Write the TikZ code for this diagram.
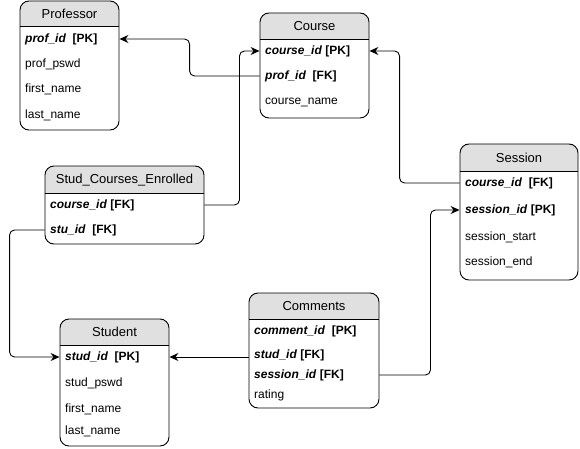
\documentclass[tikz,border=0pt]{standalone}
\usepackage{fontspec}
\setmainfont{Liberation Sans}
\usetikzlibrary{arrows.meta}

\definecolor{hdrgray}{RGB}{224,224,224}

\tikzset{
  tbl/.style={draw, line width=0.9pt, rounded corners=9pt, inner sep=0pt},
  hdr/.style={fill=hdrgray, rounded corners=9pt},
  title/.style={inner sep=0pt, font=\fontsize{13}{15}\selectfont},
  row/.style={anchor=west, inner sep=0pt, font=\fontsize{12}{14}\selectfont},
  fk/.style={draw, line width=0.9pt, rounded corners=5pt, -{Stealth[length=9pt,width=8pt,inset=3pt]}}
}
\newcommand{\fld}[1]{\textbf{\textit{#1}}}

\begin{document}
\begin{tikzpicture}[x=1pt,y=1pt,yscale=-1,xscale=1]
\useasboundingbox (0,0) rectangle (580,449);

% Shape: Professor
\begin{scope}
\clip (20,1) rectangle (119,26);
\fill[hdr] (20,1) rectangle (119,130);
\end{scope}
\node[tbl, minimum width=99, minimum height=129] (prof) at (69.5,65.5) {};
\draw[line width=0.9pt] (20,26) -- (119,26);
% Text Node
\node[title] (prof-title) at (69.5,14) {Professor};
\node[row] (prof-id) at (25,39) {\fld{prof\_id}\ \ \textbf{[PK]}};
\node[row] (prof-pswd) at (25,64) {prof\_pswd};
\node[row] (prof-first) at (25,89) {first\_name};
\node[row] (prof-last) at (25,115) {last\_name};

% Shape: Course
\begin{scope}
\clip (260,13) rectangle (369,39);
\fill[hdr] (260,13) rectangle (369,118);
\end{scope}
\node[tbl, minimum width=109, minimum height=105] (course) at (314.5,65.5) {};
\draw[line width=0.9pt] (260,39) -- (369,39);
% Text Node
\node[title] (course-title) at (314.5,26) {Course};
\node[row] (course-id) at (265,51) {\fld{course\_id} \textbf{[PK]}};
\node[row] (course-profid) at (265,76) {\fld{prof\_id}\ \ \textbf{[FK]}};
\node[row] (course-name) at (265,102) {course\_name};

% Shape: Stud_Courses_Enrolled
\begin{scope}
\clip (45,166) rectangle (204,193);
\fill[hdr] (45,166) rectangle (204,244);
\end{scope}
\node[tbl, minimum width=159, minimum height=78] (enrolled) at (124.5,205) {};
\draw[line width=0.9pt] (45,193) -- (204,193);
% Text Node
\node[title] (enrolled-title) at (124.5,180) {Stud\_Courses\_Enrolled};
\node[row] (enrolled-course) at (50,205) {\fld{course\_id} \textbf{[FK]}};
\node[row] (enrolled-stu) at (50,230) {\fld{stu\_id}\ \ \textbf{[FK]}};

% Shape: Session
\begin{scope}
\clip (460,144) rectangle (578,171);
\fill[hdr] (460,144) rectangle (578,280);
\end{scope}
\node[tbl, minimum width=118, minimum height=136] (session) at (519,212) {};
\draw[line width=0.9pt] (460,171) -- (578,171);
% Text Node
\node[title] (session-title) at (519,157.5) {Session};
\node[row] (session-course) at (465,183) {\fld{course\_id}\ \ \textbf{[FK]}};
\node[row] (session-id) at (465,210) {\fld{session\_id} \textbf{[PK]}};
\node[row] (session-start) at (465,237) {session\_start};
\node[row] (session-end) at (465,262) {session\_end};

% Shape: Student
\begin{scope}
\clip (60,319) rectangle (169,345);
\fill[hdr] (60,319) rectangle (169,446);
\end{scope}
\node[tbl, minimum width=109, minimum height=127] (student) at (114.5,382.5) {};
\draw[line width=0.9pt] (60,345) -- (169,345);
% Text Node
\node[title] (student-title) at (114.5,332) {Student};
\node[row] (student-id) at (65,357) {\fld{stud\_id}\ \ \textbf{[PK]}};
\node[row] (student-pswd) at (65,383) {stud\_pswd};
\node[row] (student-first) at (65,409) {first\_name};
\node[row] (student-last) at (65,431) {last\_name};

% Shape: Comments
\begin{scope}
\clip (249,293) rectangle (379,319);
\fill[hdr] (249,293) rectangle (379,408);
\end{scope}
\node[tbl, minimum width=130, minimum height=115] (comments) at (314,350.5) {};
\draw[line width=0.9pt] (249,319) -- (379,319);
% Text Node
\node[title] (comments-title) at (314,306) {Comments};
\node[row] (comments-id) at (254,331) {\fld{comment\_id}\ \ \textbf{[PK]}};
\node[row] (comments-stud) at (254,355) {\fld{stud\_id} \textbf{[FK]}};
\node[row] (comments-session) at (254,375) {\fld{session\_id} \textbf{[FK]}};
\node[row] (comments-rating) at (254,395) {rating};

% Connection
\draw[fk] (course.west |- course-profid) -- ++(-70,0) |- (prof.east |- prof-id);
% Connection
\draw[fk] (enrolled.east |- enrolled-course) -- ++(35,0) |- (course.west |- course-id);
% Connection
\draw[fk] (session.west |- session-course) -- ++(-60,0) |- (course.east |- course-id);
% Connection
\draw[fk] (enrolled.west |- enrolled-stu) -- ++(-35,0) |- (student.west |- student-id);
% Connection
\draw[fk] (comments.west |- student-id) -- (student.east |- student-id);
% Connection
\draw[fk] (comments.east |- comments-session) -- ++(51,0) |- (session.west |- session-id);

\end{tikzpicture}
\end{document}
